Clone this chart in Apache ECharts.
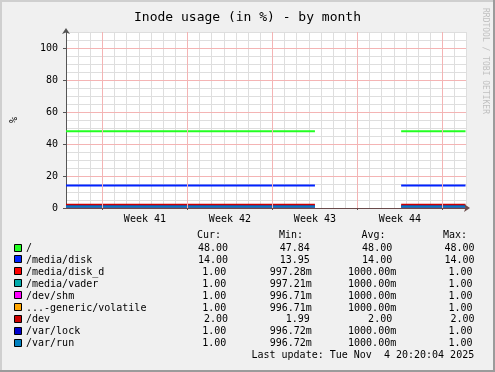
<!DOCTYPE html>
<html>
<head>
<meta charset="utf-8">
<script src="https://cdn.jsdelivr.net/npm/echarts@6/dist/echarts.min.js"></script>
<style>html,body{margin:0;padding:0;background:#f0f0f0}#c{width:495px;height:372px}</style>
</head>
<body>
<div id="c"></div>
<script>
// ---- data ----
const seriesNames = ['/', '/media/disk', '/media/disk_d', '/media/vader', '/dev/shm', '...-generic/volatile', '/dev', '/var/lock', '/var/run'];
const seriesColors = ['#22ff22', '#0022ff', '#ff0000', '#00aaaa', '#ff00ff', '#ffa500', '#cc0000', '#0000cc', '#0080c0'];
const curValues = [48.00, 14.00, 1.00, 1.00, 1.00, 1.00, 2.00, 1.00, 1.00];
const curText = ['48.00', '14.00', '1.00', '1.00', '1.00', '1.00', '2.00', '1.00', '1.00'];
const minText = ['47.84', '13.95', '997.28m', '997.21m', '996.71m', '996.71m', '1.99', '996.72m', '996.72m'];
const avgText = ['48.00', '14.00', '1000.00m', '1000.00m', '1000.00m', '1000.00m', '2.00', '1000.00m', '1000.00m'];
const maxText = ['48.00', '14.00', '1.00', '1.00', '1.00', '1.00', '2.00', '1.00', '1.00'];
// time in days from the left edge of the graph
const sampleDays = [0, 20.5, 24, 27.6, 32.9];
const sampleGap = [false, false, true, false, false];
const xRangeDays = 32.94;
const weekStartDays = [3, 10, 17, 24, 31];
const weekLabelDays = [6.5, 13.5, 20.5, 27.5];
const weekLabels = ['Week 41', 'Week 42', 'Week 43', 'Week 44'];
const yTicks = [0, 20, 40, 60, 80, 100];
const yMax = 110;
const titleText = 'Inode usage (in %) - by month';
const unitText = '%';
const lastUpdate = 'Last update: Tue Nov  4 20:20:04 2025';
const watermark = 'RRDTOOL / TOBI OETIKER';

// ---- chart ----
const chart = echarts.init(document.getElementById('c'), null, {renderer: 'canvas'});
const MONO = 'DejaVu Sans Mono';

const series = seriesNames.map((name, i) => ({
  name, type: 'line', xAxisIndex: 0, yAxisIndex: 0,
  showSymbol: false, symbol: 'none', connectNulls: false, animation: false,
  z: 3,
  lineStyle: {color: seriesColors[i], width: 2},
  data: sampleDays.map((d, k) => [d, sampleGap[k] ? '-' : curValues[i]])
}));
// major vertical grid lines (week starts)
series.unshift({
  type: 'line', data: [], xAxisIndex: 0, yAxisIndex: 0, z: 1, silent: true, animation: false,
  markLine: {
    symbol: 'none', silent: true, animation: false, label: {show: false},
    lineStyle: {color: '#f4b4b4', width: 1, type: 'solid'},
    data: weekStartDays.map(d => ({xAxis: d}))
  }
});

// legend table graphics
const g = [];
// frame
g.push({type: 'rect', shape: {x: 0, y: 0, width: 495, height: 2}, style: {fill: '#cfcfcf'}, silent: true});
g.push({type: 'rect', shape: {x: 0, y: 0, width: 2, height: 372}, style: {fill: '#cfcfcf'}, silent: true});
g.push({type: 'rect', shape: {x: 493, y: 0, width: 2, height: 372}, style: {fill: '#9b9b9b'}, silent: true});
g.push({type: 'rect', shape: {x: 0, y: 370, width: 495, height: 2}, style: {fill: '#9b9b9b'}, silent: true});

const fontStd = '10px "' + MONO + '"';
const rowY0 = 248.5, rowStep = 11.9, headY = 235.5;
const headX = [197, 279, 361.5, 443];
const headers = ['Cur:', 'Min:', 'Avg:', 'Max:'];
headers.forEach((h, j) => g.push({type: 'text', x: headX[j], y: headY, style: {text: h, font: fontStd, fill: '#000', align: 'left', verticalAlign: 'middle'}, silent: true}));
const rightPlain = [228, 309.8, 392.2, 474.6];
const rightM = [226.3, 311.8, 396.2, 472.6];
seriesNames.forEach((name, i) => {
  const y = rowY0 + rowStep * i;
  g.push({type: 'rect', shape: {x: 14.5, y: Math.round(y) - 4.5, width: 7, height: 7}, style: {fill: seriesColors[i], stroke: '#000', lineWidth: 1}, silent: true});
  g.push({type: 'text', x: 26, y, style: {text: name, font: fontStd, fill: '#000', align: 'left', verticalAlign: 'middle'}, silent: true});
  const cells = [curText[i], minText[i], avgText[i], maxText[i]];
  const hasM = cells.some(c => c.endsWith('m'));
  cells.forEach((c, j) => {
    g.push({type: 'text', x: hasM ? rightM[j] : rightPlain[j], y, style: {text: c, font: fontStd, fill: '#000', align: 'right', verticalAlign: 'middle'}, silent: true});
  });
});
g.push({type: 'text', x: 474.2, y: 355, style: {text: lastUpdate, font: fontStd, fill: '#000', align: 'right', verticalAlign: 'middle'}, silent: true});
// unit label
g.push({type: 'text', x: 14, y: 120, rotation: Math.PI / 2, style: {text: unitText, font: fontStd, fill: '#000', align: 'center', verticalAlign: 'middle'}, silent: true});
// watermark
g.push({type: 'text', x: 485, y: 61, rotation: -Math.PI / 2, style: {text: watermark, font: '8px "' + MONO + '"', fill: '#c0c0c0', align: 'center', verticalAlign: 'middle'}, silent: true});

const option = {
  backgroundColor: '#f0f0f0',
  animation: false,
  title: {
    text: titleText, left: 'center', top: 6,
    textStyle: {fontFamily: MONO, fontSize: 13, fontWeight: 'normal', color: '#000'}
  },
  grid: {left: 66, top: 32, width: 400, height: 176, show: true, backgroundColor: '#ffffff', borderWidth: 0, containLabel: false},
  xAxis: [
    {
      type: 'value', min: 0, max: xRangeDays, interval: 1, z: 0,
      axisLine: {show: false}, axisTick: {show: false}, axisLabel: {show: false},
      splitLine: {show: true, lineStyle: {color: '#dedede', width: 1}}
    },
    {
      type: 'value', min: 0, max: xRangeDays, position: 'bottom', z: 5,
      axisLine: {show: true, lineStyle: {color: '#6a4a4a', width: 1}, symbol: ['none', 'arrow'], symbolSize: [6, 6], symbolOffset: [0, 4]},
      axisTick: {show: true, length: 2, customValues: weekStartDays, lineStyle: {color: '#6a4a4a'}},
      axisLabel: {show: true, customValues: weekLabelDays, margin: 6,
        formatter: v => { const k = weekLabelDays.findIndex(d => Math.abs(d - v) < 1e-6); return k >= 0 ? weekLabels[k] : ''; },
        fontFamily: MONO, fontSize: 10, color: '#000'},
      splitLine: {show: false}
    }
  ],
  yAxis: [
    {
      type: 'value', min: 0, max: yMax, interval: 5, z: 0,
      axisLine: {show: false}, axisTick: {show: false}, axisLabel: {show: false},
      splitLine: {show: true, lineStyle: {color: '#dedede', width: 1}}
    },
    {
      type: 'value', min: 0, max: yMax, interval: 20, position: 'left', z: 1,
      axisLine: {show: true, lineStyle: {color: '#555555', width: 1}, symbol: ['none', 'arrow'], symbolSize: [6, 6], symbolOffset: [0, 4]},
      axisTick: {show: true, length: 3, customValues: yTicks, lineStyle: {color: '#555555'}},
      axisLabel: {show: true, customValues: yTicks, margin: 8, fontFamily: MONO, fontSize: 10, color: '#000'},
      splitLine: {show: true, lineStyle: {color: '#f4b4b4', width: 1}}
    }
  ],
  series,
  graphic: {elements: g}
};
chart.setOption(option);
</script>
</body>
</html>
